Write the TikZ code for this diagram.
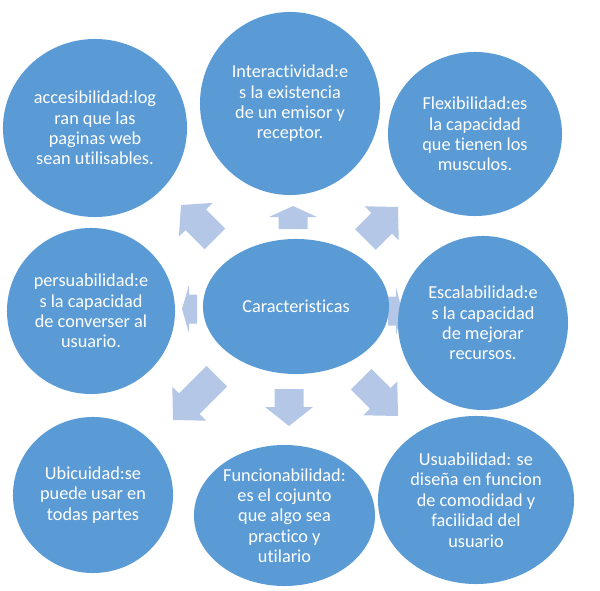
\documentclass[tikz,border=0pt]{standalone}
\usepackage{fontspec}
\setmainfont{Carlito}[Ligatures=NoCommon]
\usetikzlibrary{shapes.geometric}
\definecolor{bubbleblue}{HTML}{5B9BD5}
\definecolor{arrowblue}{HTML}{B4C7E7}

\begin{document}
\begin{tikzpicture}[x=0.025cm, y=-0.025cm,
    bubble/.style={ellipse, fill=bubbleblue, inner sep=0pt},
    bubbletext/.style={text=white, align=center, inner sep=0pt, font=\fontsize{13}{14.5}\selectfont},
    blockarrow/.style={fill=arrowblue}]
  \useasboundingbox (0,0) rectangle (600,591);
  % Block arrows: tip x / tip y / angle / head / shaft
  \foreach \tx/\ty/\ang/\hl/\sl in {181/205/135/21/27, 293/206/90/11/12, 398/207/45/23/23,
      402/311/0/6/8, 398/416/-45/25/27, 289/426/-90/19/18, 173/420/-135/23/39, 182/309/180/7/8}
    \fill[blockarrow, shift={(\tx,\ty)}, rotate=\ang]
      (0,0) -- (-\hl,24) -- (-\hl,14.5) -- (-\hl-\sl,14.5) -- (-\hl-\sl,-14.5)
      -- (-\hl,-14.5) -- (-\hl,-24) -- cycle;
  % Center
  \node[bubble, minimum width=4.65cm, minimum height=3.375cm] (car) at (296,306.5) {};
  \node[bubbletext] (car-t) at (car) {Caracteristicas};
  % Outer bubbles
  \node[bubble, minimum width=4.6cm, minimum height=4.45cm] (acc) at (95,128) {};
  \node[bubbletext] (acc-t) at (acc) {accesibilidad:log\\ran que las\\paginas web\\sean utilisables.};
  \node[bubble, minimum width=4.5cm, minimum height=4.575cm] (int) at (290,103.5) {};
  \node[bubbletext] (int-t) at (int) {Interactividad:e\\s la existencia\\de un emisor y\\receptor.};
  \node[bubble, minimum width=4.35cm, minimum height=4.1cm] (flex) at (475,134) {};
  \node[bubbletext] (flex-t) at (flex) {Flexibilidad:es\\la capacidad\\que tienen los\\musculos.};
  \node[bubble, minimum width=4.25cm, minimum height=4.35cm] (esc) at (483,323) {};
  \node[bubbletext] (esc-t) at (esc) {Escalabilidad:e\\s la capacidad\\de mejorar\\recursos.};
  \node[bubble, minimum width=4.9cm, minimum height=4.2cm] (usu) at (476,500) {};
  \node[bubbletext] (usu-t) at (usu) {Usuabilidad: se\\diseña en funcion\\de comodidad y\\facilidad del\\usuario};
  \node[bubble, minimum width=4.525cm, minimum height=3.525cm] (func) at (284.5,515.5) {};
  \node[bubbletext] (func-t) at (func) {Funcionabilidad:\\es el cojunto\\que algo sea\\practico y\\utilario};
  \node[bubble, minimum width=4cm, minimum height=3.9cm] (ubi) at (93,495) {};
  \node[bubbletext] (ubi-t) at (ubi) {Ubicuidad:se\\puede usar en\\todas partes};
  \node[bubble, minimum width=4.2cm, minimum height=4.15cm] (pers) at (91,311) {};
  \node[bubbletext] (pers-t) at (pers) {persuabilidad:e\\s la capacidad\\de converser al\\usuario.};
\end{tikzpicture}
\end{document}
